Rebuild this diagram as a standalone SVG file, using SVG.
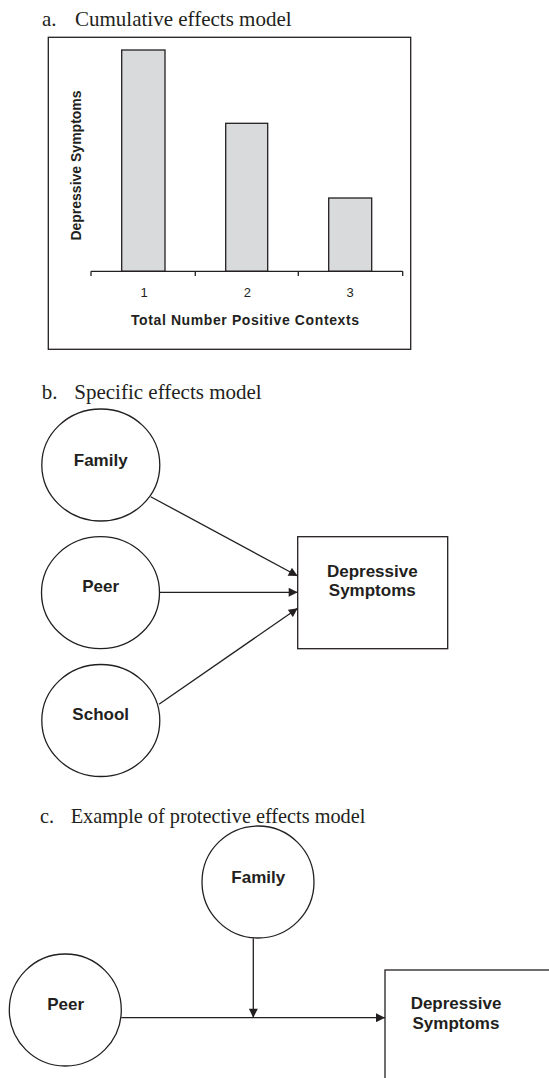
<svg xmlns="http://www.w3.org/2000/svg" width="549" height="1078" viewBox="0 0 549 1078">
<style>
.title{font-family:"Liberation Serif","Times New Roman",serif;font-size:21px;fill:#231f20}
.lbl{font-family:"Liberation Sans",Arial,sans-serif;font-weight:bold;font-size:17px;fill:#231f20;text-anchor:middle}
.ax{font-family:"Liberation Sans",Arial,sans-serif;font-size:13px;fill:#231f20;text-anchor:middle}
.axb{font-family:"Liberation Sans",Arial,sans-serif;font-weight:bold;font-size:14px;fill:#231f20;text-anchor:middle}
.shape{fill:#fff;stroke:#231f20;stroke-width:1.3}
.bar{fill:#d9dadb;stroke:#231f20;stroke-width:1.3}
.line{fill:none;stroke:#231f20;stroke-width:1.3}
.conn{fill:none;stroke:#231f20;stroke-width:1.3;marker-end:url(#arr)}
</style>
<defs>
<marker id="arr" viewBox="0 0 10 10" refX="10" refY="5" markerUnits="userSpaceOnUse" markerWidth="10" markerHeight="9" orient="auto">
<path d="M0,0 L10,5 L0,10 Z" fill="#231f20"/>
</marker>
</defs>
<rect width="549" height="1078" fill="#fff"/>

<g id="panel-a">
<text class="title" x="42" y="26">a.</text>
<text class="title" x="75" y="26">Cumulative effects model</text>
<rect class="line" x="48.3" y="37.3" width="362.4" height="312" stroke-width="1.5"/>
<rect id="bar1" class="bar" x="121.7" y="50" width="43.3" height="221.3"/>
<rect id="bar2" class="bar" x="225.7" y="123.3" width="42" height="148"/>
<rect id="bar3" class="bar" x="328.7" y="198" width="43" height="73.3"/>
<path class="line" d="M91,271.3 H402.7 M91,271.3 V276 M195.3,271.3 V276 M298.3,271.3 V276 M402.7,271.3 V276"/>
<text class="ax" x="144" y="296.7">1</text>
<text class="ax" x="247.3" y="296.7">2</text>
<text class="ax" x="350" y="296.7">3</text>
<text class="axb" x="245" y="325" textLength="228" lengthAdjust="spacing">Total Number Positive Contexts</text>
<text class="axb" transform="translate(81,165.5) rotate(-90)">Depressive Symptoms</text>
</g>

<text class="title" x="41.7" y="399.3">b.</text>
<text class="title" x="74.3" y="399.3">Specific effects model</text>

<g id="b-family">
<ellipse class="shape" cx="100.8" cy="465" rx="59" ry="56"/>
<text class="lbl" x="100.7" y="466">Family</text>
</g>
<g id="b-peer">
<ellipse class="shape" cx="100.5" cy="592.7" rx="59" ry="56"/>
<text class="lbl" x="100.7" y="592.3">Peer</text>
</g>
<g id="b-school">
<ellipse class="shape" cx="100.8" cy="720.5" rx="59" ry="56"/>
<text class="lbl" x="100.7" y="720">School</text>
</g>
<g id="b-depressive">
<rect class="shape" x="297.7" y="536.7" width="150" height="112"/>
<text class="lbl" x="372.3" y="576.7">Depressive</text>
<text class="lbl" x="372.3" y="596">Symptoms</text>
</g>

<text class="title" x="40" y="823.3" style="font-size:20.3px">c.</text>
<text class="title" x="70.7" y="823.3" style="font-size:20.3px">Example of protective effects model</text>

<g id="c-family">
<circle class="shape" cx="258" cy="882" r="56"/>
<text class="lbl" x="258.3" y="882.7">Family</text>
</g>
<g id="c-peer">
<circle class="shape" cx="65.3" cy="1010" r="56"/>
<text class="lbl" x="65.7" y="1010">Peer</text>
</g>
<g id="c-depressive">
<rect class="shape" x="385" y="970" width="220" height="160"/>
<text class="lbl" x="456" y="1009.3">Depressive</text>
<text class="lbl" x="456" y="1029.3">Symptoms</text>
</g>

<g id="connectors">
<line class="conn" x1="150.7" y1="496.7" x2="297.7" y2="576"/>
<line class="conn" x1="159.3" y1="592.3" x2="297.7" y2="592.3"/>
<line class="conn" x1="159" y1="704.3" x2="297.7" y2="608.3"/>
<line class="conn" x1="253.3" y1="938.3" x2="253.3" y2="1017.7"/>
<line class="conn" x1="121.3" y1="1017.7" x2="385" y2="1017.7"/>
</g>
</svg>
